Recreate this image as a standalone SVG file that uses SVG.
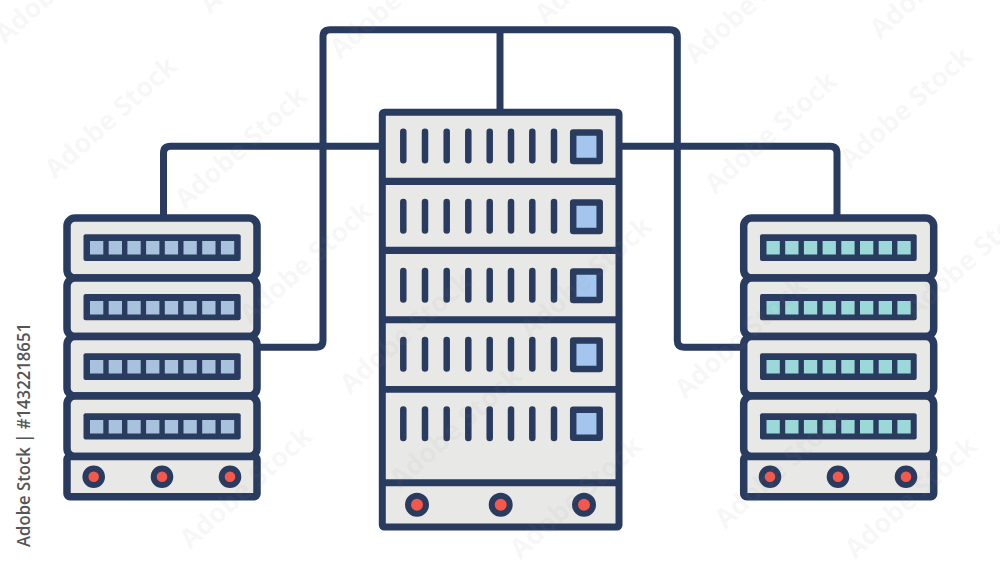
<svg xmlns="http://www.w3.org/2000/svg" width="1000" height="563" viewBox="0 0 1000 563">
<style>
.ln{fill:none;stroke:#2a3b60;stroke-width:7;stroke-linejoin:round}
.u{fill:#e8e8e6;stroke:#2a3b60;stroke-width:7.5}
.bar{fill:#2a3b60}
.bl{fill:#a8c2de}
.tl{fill:#9bd9d8}
.sl{fill:none;stroke:#2a3b60;stroke-width:6.500;stroke-linecap:round}
.led{fill:#a4c6ee;stroke:#2a3b60;stroke-width:6.500;stroke-linejoin:round}
.dot{fill:#f4584a;stroke:#2a3b60;stroke-width:6}
.wm{font-family:"Open Sans","Liberation Sans",sans-serif;font-size:18.500px;font-weight:600;fill:#555}
.gh{font-family:"Open Sans","Liberation Sans",sans-serif;font-size:27px;font-weight:700;fill:#8a8a8a;fill-opacity:.07}
</style>
<defs>
<text id="ghost" class="gh" transform="rotate(-42)">Adobe Stock</text>
<path id="slots" d="M90 0h13.300v13.500H90zM108.700 0h13.300v13.500h-13.300zM127.400 0h13.300v13.500h-13.300zM146.100 0h13.300v13.500h-13.300zM164.800 0h13.300v13.500h-13.300zM183.500 0h13.300v13.500h-13.300zM202.200 0h13.300v13.500h-13.300zM220.900 0h13.300v13.500h-13.300z"/>
<path id="slits" d="M403.300 0v28.500M425 0v28.500M446.700 0v28.500M468.300 0v28.500M489.700 0v28.500M511 0v28.500M532.300 0v28.500M554 0v28.500"/>
</defs>
<rect width="1000" height="563" fill="#fff"/>
<g id="connectors">
<path class="ln" d="M500 112V30"/>
<path class="ln" d="M257 347.300H316Q323 347.300 323 340.300V36.700Q323 29.700 330 29.700H670Q677.300 29.700 677.300 36.700V340.300Q677.300 347.300 684 347.300H744"/>
<path class="ln" d="M163.500 218V153.300Q163.500 146.300 170.500 146.300H382"/>
<path class="ln" d="M619 146.300H830Q837 146.300 837 153.300V218"/>
</g>
<g id="left-server">
<rect class="u" x="67" y="218" width="190" height="60" rx="8"/>
<rect class="u" x="67" y="278" width="190" height="58.500" rx="8"/>
<rect class="u" x="67" y="336.500" width="190" height="59.500" rx="8"/>
<rect class="u" x="67" y="396" width="190" height="60.500" rx="8"/>
<rect class="u" x="67" y="456.500" width="190" height="40.200" rx="3"/>
<rect class="bar" x="83.500" y="234.300" width="157.200" height="26.700" rx="2"/>
<rect class="bar" x="83.500" y="294" width="157.200" height="26.300" rx="2"/>
<rect class="bar" x="83.500" y="353.300" width="157.200" height="26.700" rx="2"/>
<rect class="bar" x="83.500" y="413.300" width="157.200" height="26.200" rx="2"/>
<use href="#slots" class="bl" y="241"/>
<use href="#slots" class="bl" y="301"/>
<use href="#slots" class="bl" y="360"/>
<use href="#slots" class="bl" y="420"/>
<circle class="dot" cx="93.700" cy="476.700" r="8.300"/>
<circle class="dot" cx="162" cy="476.700" r="8.300"/>
<circle class="dot" cx="230" cy="476.700" r="8.300"/>
</g>
<g id="center-server">
<rect x="382.300" y="112.200" width="236.700" height="414.800" rx="2" fill="#e8e8e6" stroke="#2a3b60" stroke-width="7"/>
<path class="bar" d="M382 177.700h237v7.300H382zM382 246.700h237v7.300H382zM382 316.300h237v7H382zM382 386h237v6.700H382zM382 479.300h237v7H382z"/>
<use href="#slits" class="sl" y="131.700"/>
<use href="#slits" class="sl" y="202"/>
<use href="#slits" class="sl" y="271"/>
<use href="#slits" class="sl" y="340"/>
<use href="#slits" class="sl" y="409.500"/>
<rect class="led" x="573.200" y="132.500" width="26.500" height="28.500"/>
<rect class="led" x="573.200" y="202.500" width="26.500" height="28.500"/>
<rect class="led" x="573.200" y="271.500" width="26.500" height="28.500"/>
<rect class="led" x="573.200" y="340.500" width="26.500" height="28.500"/>
<rect class="led" x="573.200" y="409.700" width="26.500" height="28"/>
<circle class="dot" cx="417" cy="504.700" r="9"/>
<circle class="dot" cx="500.700" cy="504.700" r="9"/>
<circle class="dot" cx="584" cy="504.700" r="9"/>
</g>
<g id="right-server">
<rect class="u" x="743.700" y="218" width="190" height="60" rx="8"/>
<rect class="u" x="743.700" y="278" width="190" height="58.500" rx="8"/>
<rect class="u" x="743.700" y="336.500" width="190" height="59.500" rx="8"/>
<rect class="u" x="743.700" y="396" width="190" height="60.500" rx="8"/>
<rect class="u" x="743.700" y="456.500" width="190" height="40.200" rx="3"/>
<rect class="bar" x="760" y="234.300" width="156.700" height="26.700" rx="2"/>
<rect class="bar" x="760" y="294" width="156.700" height="26.300" rx="2"/>
<rect class="bar" x="760" y="353.300" width="156.700" height="26.700" rx="2"/>
<rect class="bar" x="760" y="413.300" width="156.700" height="26.200" rx="2"/>
<use href="#slots" class="tl" x="676.500" y="241"/>
<use href="#slots" class="tl" x="676.500" y="301"/>
<use href="#slots" class="tl" x="676.500" y="360"/>
<use href="#slots" class="tl" x="676.500" y="420"/>
<circle class="dot" cx="770" cy="476.700" r="8.300"/>
<circle class="dot" cx="838" cy="476.700" r="8.300"/>
<circle class="dot" cx="906" cy="476.700" r="8.300"/>
</g>
<text class="wm" transform="translate(30 547) rotate(-90)" textLength="224" lengthAdjust="spacingAndGlyphs">Adobe Stock | #1432218651</text>
<g id="watermark">
<use href="#ghost" x="5" y="45"/><use href="#ghost" x="55" y="180"/><use href="#ghost" x="185" y="210"/>
<use href="#ghost" x="210" y="15"/><use href="#ghost" x="340" y="60"/><use href="#ghost" x="545" y="25"/>
<use href="#ghost" x="695" y="65"/><use href="#ghost" x="880" y="40"/><use href="#ghost" x="715" y="195"/>
<use href="#ghost" x="850" y="170"/><use href="#ghost" x="250" y="325"/><use href="#ghost" x="190" y="550"/>
<use href="#ghost" x="350" y="395"/><use href="#ghost" x="530" y="340"/><use href="#ghost" x="685" y="400"/>
<use href="#ghost" x="400" y="490"/><use href="#ghost" x="520" y="560"/><use href="#ghost" x="725" y="530"/>
<use href="#ghost" x="855" y="560"/><use href="#ghost" x="915" y="320"/>
</g>
</svg>
